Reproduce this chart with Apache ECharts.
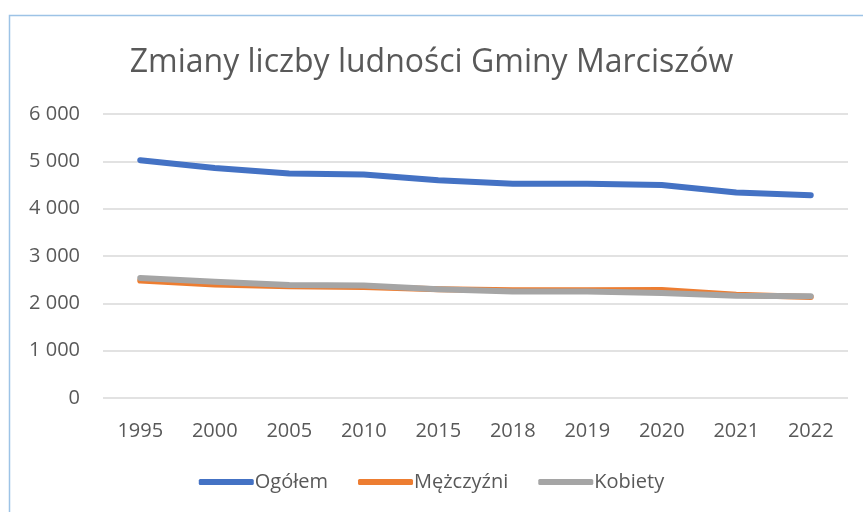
<!DOCTYPE html>
<html><head><meta charset="utf-8">
<script src="https://cdn.jsdelivr.net/npm/echarts@6/dist/echarts.min.js"></script>
<style>html,body{margin:0;padding:0;background:#fff}#c{width:863px;height:512px}</style>
</head><body><div id="c"></div>
<script>
const categories = ['1995','2000','2005','2010','2015','2018','2019','2020','2021','2022'];
const ogolem = [5025, 4860, 4745, 4720, 4600, 4525, 4525, 4500, 4340, 4285];
const mezczyzni = [2480, 2400, 2360, 2345, 2300, 2275, 2275, 2280, 2180, 2135];
const kobiety = [2535, 2455, 2385, 2375, 2300, 2250, 2250, 2220, 2160, 2150];
const yTicks = [0, 1000, 2000, 3000, 4000, 5000, 6000];

const font = 'Open Sans';
const txt = '#595959';
const chart = echarts.init(document.getElementById('c'));
const mk = (name, data, color) => ({
  name, type: 'line', data, symbol: 'none', smooth: false,
  lineStyle: { width: 6, color, cap: 'round', join: 'round' },
  itemStyle: { color }
});
chart.setOption({
  animation: false,
  graphic: [{ type: 'rect', shape: { x: 9.5, y: 15.5, width: 900, height: 600 },
    style: { fill: 'none', stroke: '#9DC3E6', lineWidth: 1.5 }, silent: true }],
  title: { text: 'Zmiany liczby ludności Gminy Marciszów', left: 'center', top: 42,
    textStyle: { fontFamily: font, fontSize: 32, fontWeight: 'normal', color: txt } },
  grid: { left: 103, right: 15, top: 114, bottom: 114 },
  xAxis: { type: 'category', data: categories, boundaryGap: true,
    axisLine: { show: false }, axisTick: { show: false },
    axisLabel: { fontFamily: font, fontSize: 20, color: txt, margin: 23 } },
  yAxis: { type: 'value', min: yTicks[0], max: yTicks[yTicks.length - 1], interval: 1000,
    axisLine: { show: false }, axisTick: { show: false },
    splitLine: { lineStyle: { color: '#D9D9D9', width: 1.5 } },
    axisLabel: { fontFamily: font, fontSize: 20, color: txt, margin: 23,
      formatter: v => String(v).replace(/\B(?=(\d{3})+(?!\d))/g, ' ') } },
  legend: { bottom: 15, left: 'center', itemWidth: 55, itemHeight: 6, itemGap: 30,
    icon: 'roundRect',
    textStyle: { fontFamily: font, fontSize: 20, color: txt, padding: [0, 0, 0, -4] },
    data: ['Ogółem', 'Mężczyźni', 'Kobiety'] },
  series: [mk('Ogółem', ogolem, '#4472C4'), mk('Mężczyźni', mezczyzni, '#ED7D31'), mk('Kobiety', kobiety, '#A5A5A5')]
});
</script></body></html>
